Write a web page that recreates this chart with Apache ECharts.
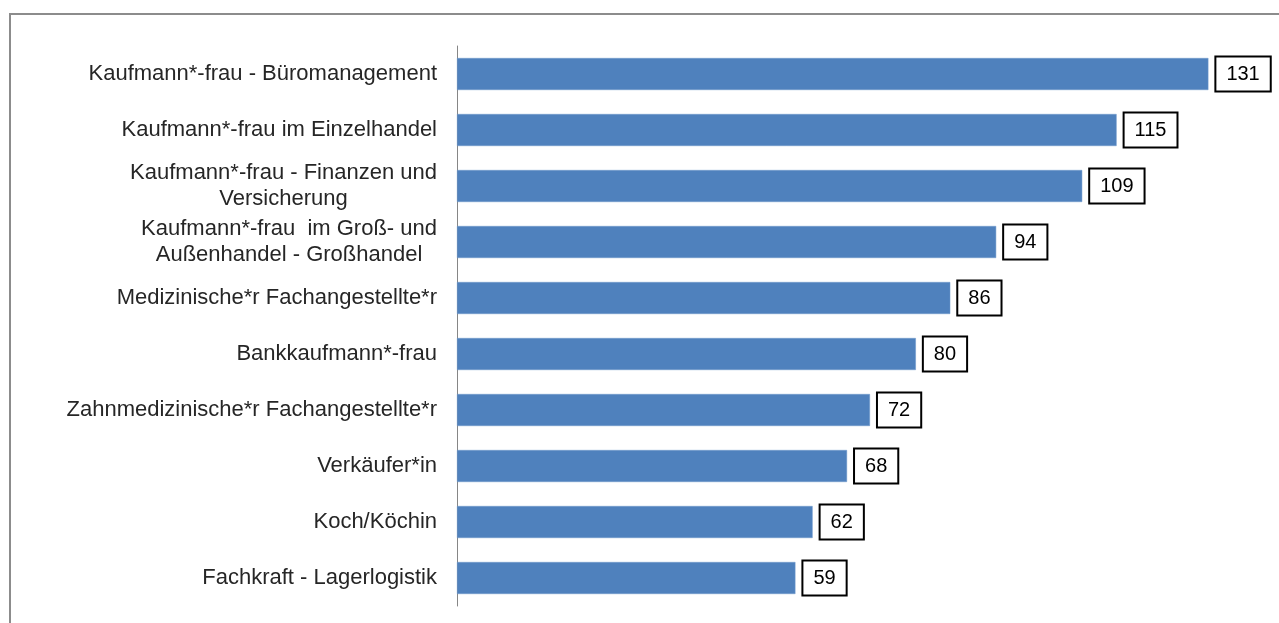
<!DOCTYPE html>
<html>
<head>
<meta charset="utf-8">
<script src="https://cdn.jsdelivr.net/npm/echarts@6/dist/echarts.min.js"></script>
<style>
  html, body { margin: 0; padding: 0; background: #fff; }
  #main { width: 1279px; height: 623px; }
</style>
</head>
<body>
<div id="main"></div>
<script>
var categories = [
    'Kaufmann*-frau - Büromanagement',
    'Kaufmann*-frau im Einzelhandel',
    'Kaufmann*-frau - Finanzen und\nVersicherung',
    'Kaufmann*-frau  im Groß- und\nAußenhandel - Großhandel',
    'Medizinische*r Fachangestellte*r',
    'Bankkaufmann*-frau',
    'Zahnmedizinische*r Fachangestellte*r',
    'Verkäufer*in',
    'Koch/Köchin',
    'Fachkraft - Lagerlogistik'
];
var values = [131, 115, 109, 94, 86, 80, 72, 68, 62, 59];

var myChart = echarts.init(document.getElementById('main'));

var option = {
    animation: false,
    textStyle: { fontFamily: '"Liberation Sans", Arial, sans-serif' },
    graphic: [{
        type: 'rect',
        shape: { x: 10, y: 14, width: 1290, height: 700 },
        style: { fill: 'none', stroke: '#8c8c8c', lineWidth: 2 },
        silent: true
    }],
    grid: { left: 457, top: 46, right: 19, bottom: 17, containLabel: false },
    xAxis: {
        type: 'value',
        min: 0,
        max: 140,
        show: false
    },
    yAxis: {
        type: 'category',
        inverse: true,
        data: categories,
        axisLine: { lineStyle: { color: '#868686', width: 1 } },
        axisTick: { show: false },
        axisLabel: {
            margin: 20,
            fontSize: 22,
            color: '#262626',
            formatter: function (v) {
                return v.split('\n').map(function (s) { return '{c|' + s + '}'; }).join('\n');
            },
            rich: {
                c: { fontSize: 22, color: '#262626', align: 'center', lineHeight: 26,
                     fontFamily: '"Liberation Sans", Arial, sans-serif' }
            }
        }
    },
    series: [{
        type: 'bar',
        data: values,
        barWidth: 32,
        itemStyle: { color: '#4f81bd', borderColor: '#6e98cc', borderWidth: 0.5 },
        label: {
            show: true,
            position: 'right',
            distance: 8,
            fontSize: 20,
            color: '#000',
            backgroundColor: '#fff',
            borderColor: '#000',
            borderWidth: 2,
            padding: [7, 10, 6, 10],
            lineHeight: 20
        }
    }]
};

option && myChart.setOption(option);
</script>
</body>
</html>
